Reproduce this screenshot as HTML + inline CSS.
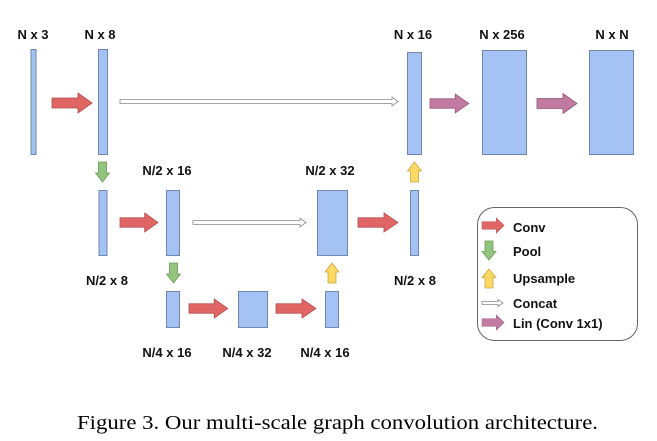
<!DOCTYPE html>
<html><head><meta charset="utf-8"><style>
html,body{margin:0;padding:0;background:#fff;}
svg{display:block;}
.l{font-family:"Liberation Sans",sans-serif;font-weight:bold;font-size:13px;fill:#111;text-anchor:middle;}
.g{font-family:"Liberation Sans",sans-serif;font-weight:bold;font-size:13px;fill:#111;}
.b{fill:#a4c2f4;stroke:#6f86ad;stroke-width:1;}
</style></head><body>
<svg width="657" height="441" viewBox="0 0 657 441" xmlns="http://www.w3.org/2000/svg">
<defs>
<path id="ar" d="M0,-5 L26,-5 L26,-10 L40,0 L26,10 L26,5 L0,5 Z"/>
<path id="ad" d="M-4,0 L4,0 L4,11 L7,11 L0,20 L-7,11 L-4,11 Z"/>
</defs>
<text class="l" x="33" y="39">N x 3</text>
<text class="l" x="100" y="39">N x 8</text>
<text class="l" x="413" y="39">N x 16</text>
<text class="l" x="502" y="39">N x 256</text>
<text class="l" x="612" y="39">N x N</text>
<text class="l" x="167" y="175">N/2 x 16</text>
<text class="l" x="330" y="175">N/2 x 32</text>
<text class="l" x="107" y="285">N/2 x 8</text>
<text class="l" x="415" y="285">N/2 x 8</text>
<text class="l" x="167" y="357">N/4 x 16</text>
<text class="l" x="247" y="357">N/4 x 32</text>
<text class="l" x="325" y="357">N/4 x 16</text>
<rect class="b" x="31" y="49.5" width="5" height="105"/>
<rect class="b" x="98.5" y="49.5" width="9" height="105"/>
<rect class="b" x="407.5" y="52.5" width="14" height="102"/>
<rect class="b" x="482.5" y="50.5" width="44" height="104"/>
<rect class="b" x="589.5" y="50.5" width="44" height="104"/>
<rect class="b" x="99" y="190.5" width="8" height="65"/>
<rect class="b" x="166.5" y="190.5" width="13" height="65"/>
<rect class="b" x="317.5" y="190.5" width="30" height="65"/>
<rect class="b" x="410.5" y="190.5" width="8" height="65"/>
<rect class="b" x="166.5" y="291.5" width="13" height="36"/>
<rect class="b" x="238.5" y="291.5" width="29" height="36"/>
<rect class="b" x="325.5" y="291.5" width="13" height="36"/>
<path d="M120,99.5 L392,99.5 L392,97 L398,101.5 L392,106 L392,103.5 L120,103.5 Z" fill="#fff" stroke="#888" stroke-width="0.8"/>
<path d="M193,220.5 L300,220.5 L300,218 L306,222.5 L300,227 L300,224.5 L193,224.5 Z" fill="#fff" stroke="#888" stroke-width="0.8"/>
<g fill="#e06666" stroke="#b04848" stroke-width="0.8">
<use href="#ar" transform="translate(52,103)"/>
<use href="#ar" transform="translate(120,222.5) scale(0.95,0.95)"/>
<use href="#ar" transform="translate(189,308.5) scale(0.97,0.95)"/>
<use href="#ar" transform="translate(276,308.5) scale(1,0.95)"/>
<use href="#ar" transform="translate(358,222.5) scale(1,0.95)"/>
<use href="#ar" transform="translate(482,225.5) scale(0.55,0.75)"/>
</g>
<g fill="#c27ba0" stroke="#8e5577" stroke-width="0.8">
<use href="#ar" transform="translate(430,103.5) scale(0.97,0.95)"/>
<use href="#ar" transform="translate(537,103.5)"/>
<use href="#ar" transform="translate(482,322.5) scale(0.55,0.75)"/>
</g>
<g fill="#93c47d" stroke="#6a9a57" stroke-width="0.8">
<use href="#ad" transform="translate(102.5,162)"/>
<use href="#ad" transform="translate(173.5,263)"/>
<use href="#ad" transform="translate(489,241) scale(1,0.95)"/>
</g>
<g fill="#ffd966" stroke="#c9a53c" stroke-width="0.8">
<use href="#ad" transform="translate(414.5,182) scale(1,-1)"/>
<use href="#ad" transform="translate(332,283) scale(1,-1)"/>
<use href="#ad" transform="translate(489,288) scale(1,-0.95)"/>
</g>
<path d="M482,301.5 L498,301.5 L498,299.5 L503,303 L498,306.5 L498,304.5 L482,304.5 Z" fill="#fff" stroke="#888" stroke-width="0.8"/>
<rect x="477.5" y="207.5" width="160" height="133" rx="17" fill="none" stroke="#666" stroke-width="1"/>
<text class="g" x="513" y="232">Conv</text>
<text class="g" x="513" y="256">Pool</text>
<text class="g" x="513" y="283">Upsample</text>
<text class="g" x="513" y="308">Concat</text>
<text class="g" x="513" y="328">Lin (Conv 1x1)</text>
<text x="77" y="429" font-family="'Liberation Serif',serif" font-size="19.5" fill="#000" textLength="521" lengthAdjust="spacingAndGlyphs">Figure 3. Our multi-scale graph convolution architecture.</text>
</svg>
</body></html>
